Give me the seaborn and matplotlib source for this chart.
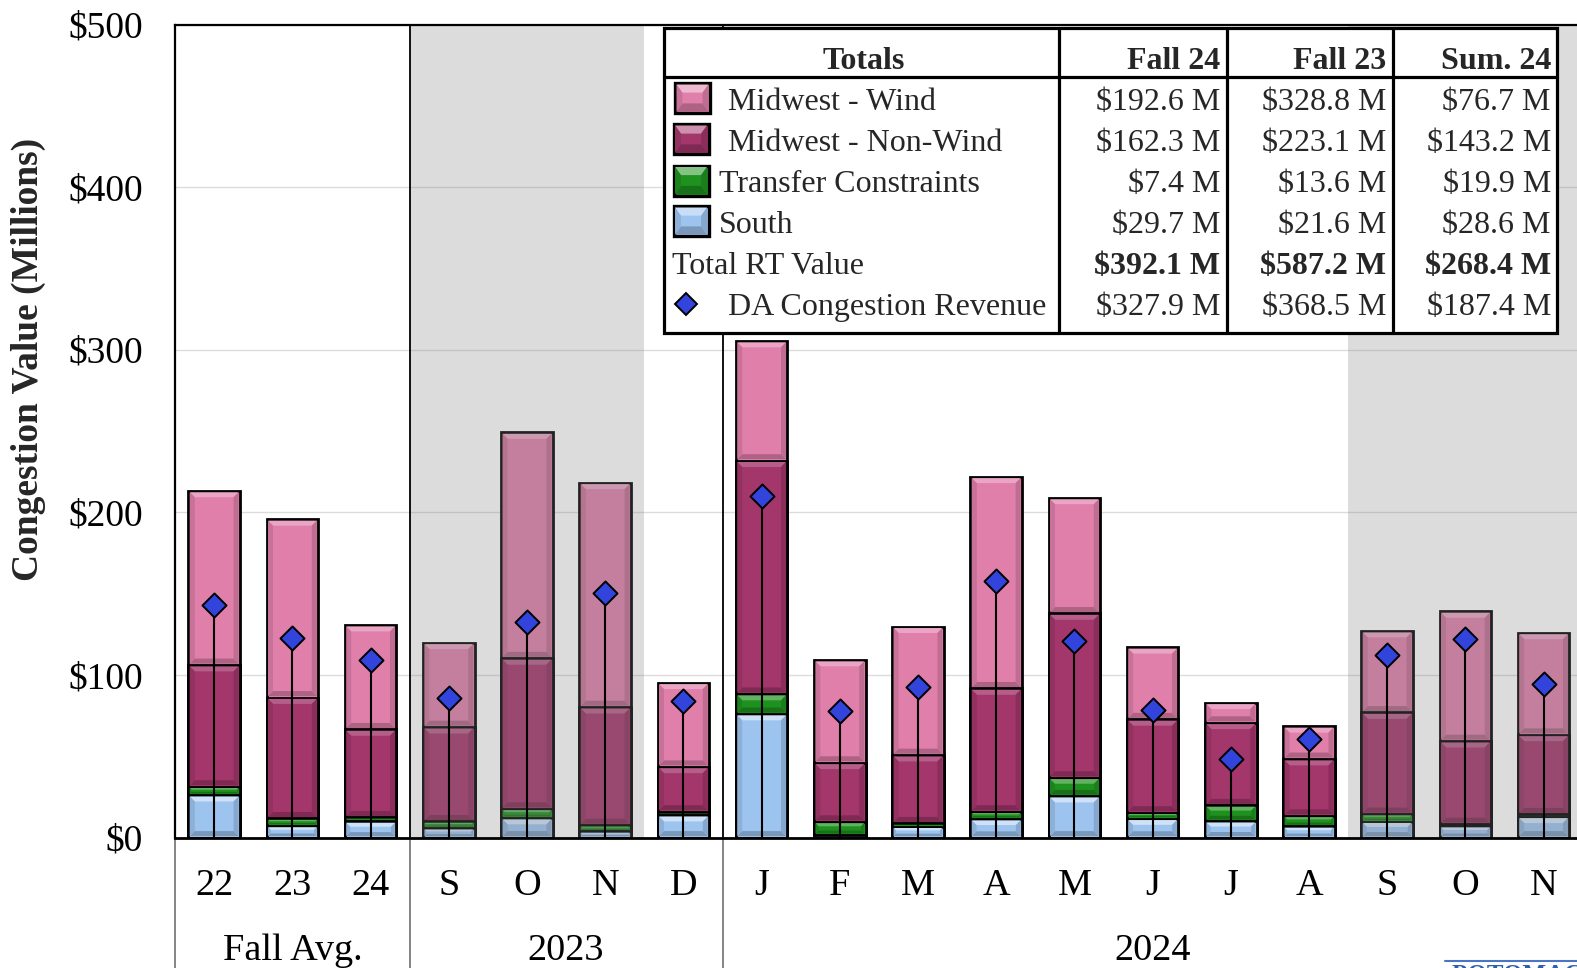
import numpy as np
import pandas as pd
import matplotlib
matplotlib.use("Agg")
import matplotlib.pyplot as plt
import seaborn as sns
from matplotlib.patches import Rectangle, Polygon
from matplotlib.lines import Line2D
from matplotlib.transforms import Affine2D, blended_transform_factory
from matplotlib.ticker import FuncFormatter, MultipleLocator
from matplotlib.colors import to_rgb

# ---------------------------------------------------------------- data
periods = ["FA22", "FA23", "FA24", "S23", "O23", "N23", "D23",
           "J24", "F24", "M24", "A24", "MY24", "JN24", "JL24", "AG24",
           "S24", "O24", "N24"]
tick_labels = ["22", "23", "24", "S", "O", "N", "D",
               "J", "F", "M", "A", "M", "J", "J", "A", "S", "O", "N"]

south = [26.1, 7.2, 9.9, 5.8, 12.0, 3.8, 13.8,
         76.0, 1.5, 6.7, 11.4, 25.5, 11.6, 10.1, 6.9, 9.8, 7.1, 12.8]
transfer = [5.2, 4.5, 2.5, 4.1, 5.7, 3.8, 2.1,
            12.3, 8.2, 2.0, 4.5, 11.3, 3.7, 9.7, 6.5, 4.7, 1.2, 1.5]
midwest_nonwind = [74.8, 74.4, 54.1, 58.0, 92.5, 72.6, 27.6,
                   143.5, 36.3, 42.0, 75.8, 101.0, 57.4, 50.8, 34.9, 62.4, 51.0, 48.9]
midwest_wind = [107.1, 109.6, 64.2, 51.9, 138.9, 138.0, 51.7,
                73.6, 63.2, 79.0, 130.2, 71.1, 44.3, 12.3, 20.1, 50.1, 79.8, 62.7]
da_congestion = [142.7, 122.8, 109.3, 85.6, 132.8, 150.1, 84.0,
                 210.2, 77.8, 92.7, 157.6, 121.1, 78.4, 48.3, 60.7, 112.0, 121.8, 94.1]

group_labels = ["Fall Avg.", "2023", "2024"]
group_spans = [(0, 2), (3, 6), (7, 17)]
shaded_spans = [(3, 5), (15, 17)]

table_header = ["Totals", "Fall 24", "Fall 23", "Sum. 24"]
table_rows = ["Midwest - Wind", "Midwest - Non-Wind", "Transfer Constraints",
              "South", "Total RT Value", "DA Congestion Revenue"]
fall24_totals = [192.6, 162.3, 7.4, 29.7, 392.1, 327.9]
fall23_totals = [328.8, 223.1, 13.6, 21.6, 587.2, 368.5]
summer24_totals = [76.7, 143.2, 19.9, 28.6, 268.4, 187.4]

# ---------------------------------------------------------------- style
W, H = 1577, 968
sns.set_theme(style="white")
plt.rcParams["font.family"] = ["Liberation Serif", "DejaVu Serif"]
plt.rcParams["text.parse_math"] = False

C_WIND = "#DF7FAA"
C_NONWIND = "#A3366B"
C_TRANSFER = "#1F911F"
C_SOUTH = "#9DC3EF"
C_DA = "#3344DD"
BAR_W = 0.66


def mix(c, other, t):
    a, b = np.array(to_rgb(c)), np.array(to_rgb(other))
    return tuple(a * (1 - t) + b * t)


def bevel(x0, x1, y0, y1, face, tx, ty, transform=None, z=1.1, light=0.4):
    """Polygons giving a raised-edge look inside the rectangle (x0,x1,y0,y1)."""
    h = abs(y1 - y0)
    sgn = 1 if y1 >= y0 else -1
    by = min(ty, h * 0.3) * sgn
    bx = min(tx, abs(x1 - x0) * 0.25) * (by / (ty * sgn) if ty else 1)
    kw = dict(lw=0, zorder=z)
    if transform is not None:
        kw["transform"] = transform
    polys = [
        ([(x0, y1), (x1, y1), (x1 - bx, y1 - by), (x0 + bx, y1 - by)], mix(face, "white", light)),
        ([(x0, y0), (x1, y0), (x1 - bx, y0 + by), (x0 + bx, y0 + by)], mix(face, "black", 0.22)),
        ([(x0, y0), (x0 + bx, y0 + by), (x0 + bx, y1 - by), (x0, y1)], mix(face, "black", 0.10)),
        ([(x1, y0), (x1 - bx, y0 + by), (x1 - bx, y1 - by), (x1, y1)], mix(face, "black", 0.14)),
    ]
    return [Polygon(pts, closed=True, facecolor=col, **kw) for pts, col in polys]


fig = plt.figure(figsize=(W / 100, H / 100), dpi=100)
ax_left, ax_right = 175.1, 175.1 + 18 * 78.2
ax_top, ax_bottom = 24.5, 837.5
ax = fig.add_axes([ax_left / W, (H - ax_bottom) / H,
                   (ax_right - ax_left) / W, (ax_bottom - ax_top) / H])

df = pd.DataFrame({"period": periods, "south": south, "transfer": transfer,
                   "nonwind": midwest_nonwind, "wind": midwest_wind, "da": da_congestion})
df["c_south"] = df["south"]
df["c_transfer"] = df["c_south"] + df["transfer"]
df["c_nonwind"] = df["c_transfer"] + df["nonwind"]
df["c_wind"] = df["c_nonwind"] + df["wind"]

# stacked bars: tallest layer first, each lower layer drawn on top of it
layers = [("c_wind", C_WIND), ("c_nonwind", C_NONWIND),
          ("c_transfer", C_TRANSFER), ("c_south", C_SOUTH)]
for col, colr in layers:
    sns.barplot(data=df, x="period", y=col, color=colr, saturation=1,
                width=BAR_W, edgecolor="black", linewidth=2.0,
                errorbar=None, ax=ax, zorder=1)

# bevel highlights on each visible segment
first_patches = ax.patches[:len(periods)]
px_x = 78.2          # pixels per category
px_y = 813 / 500     # pixels per $M
inset_x, inset_y = 1.4 / px_x, 1.4 / px_y
seg_bounds = [(np.zeros(len(df)), df["c_south"].values, C_SOUTH, 0.5),
              (df["c_south"].values, df["c_transfer"].values, C_TRANSFER, 0.3),
              (df["c_transfer"].values, df["c_nonwind"].values, C_NONWIND, 0.2),
              (df["c_nonwind"].values, df["c_wind"].values, C_WIND, 0.3)]
for i, p in enumerate(first_patches):
    x0 = p.get_x() + inset_x
    x1 = p.get_x() + p.get_width() - inset_x
    for lo, hi, face, lt in seg_bounds:
        y0, y1 = lo[i] + inset_y, hi[i] - inset_y
        if y1 - y0 <= 0:
            continue
        for poly in bevel(x0, x1, y0, y1, face, 5 / px_x, 5 / px_y, light=lt):
            ax.add_patch(poly)

# shaded fall months
for a, b in shaded_spans:
    ax.axvspan(a - 0.5, b + 0.5, color="#7f7f7f", alpha=0.27, lw=0, zorder=1.5)

x = np.arange(len(periods))
# DA congestion revenue: stems and diamonds
ax.vlines(x, 0, df["da"], color="black", lw=1.5, zorder=2)
ax.scatter(x, df["da"], marker="D", s=150, color=C_DA, edgecolor="black",
           linewidth=1.4, zorder=3)

ax.set_xlim(-0.5, len(periods) - 0.5)
ax.set_ylim(0, 500)
ax.yaxis.set_major_locator(MultipleLocator(100))
ax.yaxis.set_major_formatter(FuncFormatter(lambda v, p: f"${v:.0f}"))
ax.set_axisbelow(True)
ax.yaxis.grid(True, color="#DCDCDC", lw=1.0)
ax.xaxis.grid(False)
ax.set_xticks(x)
ax.set_xticklabels(tick_labels)
ax.set_xlabel("")
ax.set_ylabel("")
ax.tick_params(axis="x", length=0, pad=22.0, labelsize=27.5, colors="black")
ax.tick_params(axis="y", length=0, pad=23, labelsize=27, colors="black")
for side in ["left", "top", "bottom"]:
    ax.spines[side].set_color("black")
ax.spines["left"].set_linewidth(1.6)
ax.spines["top"].set_linewidth(1.6)
ax.spines["bottom"].set_linewidth(2.0)
ax.spines["right"].set_visible(False)

# group separators and labels
bt = blended_transform_factory(ax.transData, ax.transAxes)
separators = [group_spans[0][1] + 0.5, group_spans[1][1] + 0.5]
for sx in separators:
    ax.plot([sx, sx], [0, 1], transform=bt, color="black", lw=1.3, zorder=1.6)
for sx in [-0.5] + separators:
    ax.plot([sx, sx], [0, -0.25], transform=bt, color="#707070", lw=1.2,
            clip_on=False)
for lab, (a, b) in zip(group_labels, group_spans):
    ax.text((a + b) / 2, (ax_bottom - 960) / 813, lab, transform=bt,
            ha="center", va="baseline", fontsize=27.5, color="black")

# y axis title
T = Affine2D().scale(1 / W, -1 / H).translate(0, 1) + fig.transFigure
fig.text(28, 359.5, "Congestion Value (Millions)", transform=T, rotation=90,
         ha="center", va="center", fontsize=27, fontweight="bold")

# ---------------------------------------------------------------- totals table
tx0, tx1, ty0, ty1 = 664, 1557, 27.5, 333
col_x = [1059, 1227, 1393]
fig.add_artist(Rectangle((tx0, ty0), tx1 - tx0, ty1 - ty0, transform=T,
                         facecolor="white", edgecolor="black", lw=2.3, zorder=5))
for cx in col_x:
    fig.add_artist(Line2D([cx, cx], [ty0, ty1], transform=T, color="black",
                          lw=2.3, zorder=6))
fig.add_artist(Line2D([tx0, tx1], [77, 77], transform=T, color="black",
                      lw=2.3, zorder=6))

tfs = 23
fig.text((tx0 + col_x[0]) / 2 + 2, 69, table_header[0], transform=T, ha="center",
         va="baseline", fontsize=tfs, fontweight="bold", zorder=7)
right_x = [1220, 1386, 1551]
for rx, h in zip(right_x, table_header[1:]):
    fig.text(rx, 69, h, transform=T, ha="right", va="baseline", fontsize=tfs,
             fontweight="bold", zorder=7)

row_base = [110, 151, 192.5, 233, 274.5, 315]
label_x = [728, 728, 719, 719, 672, 728]
swatches = [C_WIND, C_NONWIND, C_TRANSFER, C_SOUTH, None, "diamond"]
for i, name in enumerate(table_rows):
    bold = name.startswith("Total")
    fig.text(label_x[i], row_base[i], name, transform=T, ha="left",
             va="baseline", fontsize=tfs, zorder=7)
    for rx, vals in zip(right_x, [fall24_totals, fall23_totals, summer24_totals]):
        fig.text(rx, row_base[i], f"${vals[i]:.1f} M", transform=T, ha="right",
                 va="baseline", fontsize=tfs, zorder=7,
                 fontweight="bold" if bold else "normal")
    sw = swatches[i]
    if sw is None:
        continue
    cy = row_base[i] - 12
    if sw == "diamond":
        fig.add_artist(Line2D([686], [cy + 1], transform=T, marker="D",
                              markersize=11, markerfacecolor=C_DA,
                              markeredgecolor="black", markeredgewidth=1.4,
                              linestyle="none", zorder=8))
        continue
    sx0 = 675 if i == 0 else 673.5
    sx1, sy0, sy1 = sx0 + 35, cy - 15, cy + 15
    fig.add_artist(Rectangle((sx0, sy0), sx1 - sx0, sy1 - sy0, transform=T,
                             facecolor=sw, edgecolor="black", lw=2.4, zorder=8))
    for poly in bevel(sx0 + 1.5, sx1 - 1.5, sy1 - 1.5, sy0 + 1.5, sw, 11, 11,
                      transform=T, z=8.5, light=0.45):
        fig.add_artist(poly)

# footer mark
fig.add_artist(Line2D([1445, 1577], [961, 961], transform=T, color="#4A74C6",
                      lw=1.5, zorder=9))
fig.text(1452, 964, "POTOMAC ECONOMICS", transform=T, ha="left", va="top",
         fontsize=18, fontweight="bold", color="#2F5DB0", zorder=9)

fig.savefig("out.png", dpi=100)
